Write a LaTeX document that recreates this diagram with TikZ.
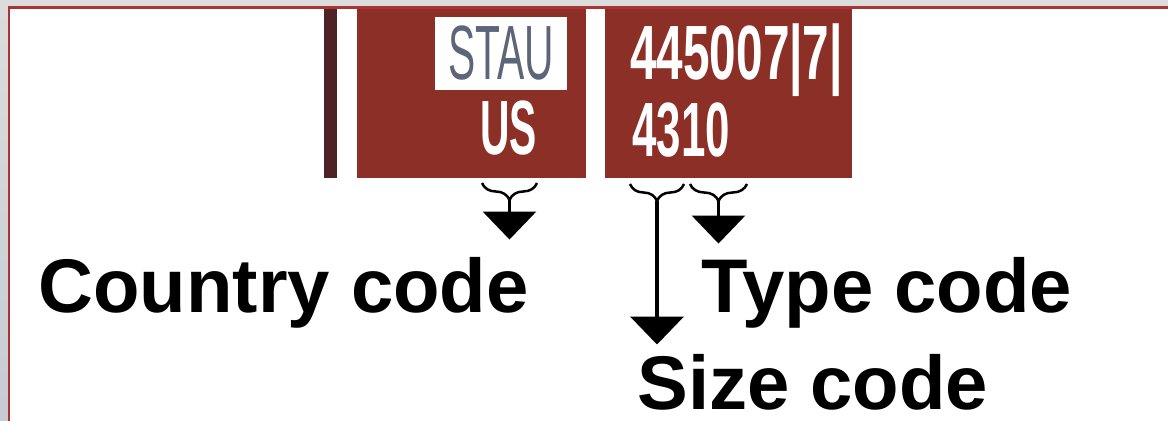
\documentclass[tikz,border=0pt]{standalone}
\usepackage{fontspec}
\setmainfont{Liberation Sans}
\usetikzlibrary{arrows.meta, decorations.pathreplacing}
\definecolor{platered}{HTML}{8C3027}
\definecolor{bardark}{HTML}{4E2226}
\definecolor{framered}{HTML}{A83434}
\definecolor{framegray}{HTML}{DCDCDC}
\definecolor{framebluegray}{HTML}{C6CBD4}
\definecolor{staugray}{HTML}{5C6579}
\tikzset{
	plate/.style={fill=platered, draw=none, inner sep=0pt}, % the red marking plates
	platetext/.style={text=white, inner sep=0pt, font=\fontsize{43.8}{44}\selectfont\bfseries},
	codelabel/.style={inner sep=0pt, anchor=base west, font=\fontsize{43.3}{45}\selectfont\bfseries},
	codebrace/.style={decorate, decoration={brace, mirror, amplitude=0.34cm}, line width=0.05cm},
	codearrow/.style={-{Triangle[width=1.06cm, length=0.56cm]}, line width=0.1cm},
}

\begin{document}
\begin{tikzpicture}[x=0.02cm, y=-0.02cm]
	\useasboundingbox (0,0) rectangle (1168,421);
	\fill[white] (0,0) rectangle (1168,421);

	% plates
	\node[plate, fill=bardark, minimum width=0.26cm, minimum height=3.42cm] (bar) at (330.5,92.5) {};
	\node[plate, minimum width=4.58cm, minimum height=3.42cm] (owner) at (471.5,92.5) {};
	\node[plate, minimum width=4.94cm, minimum height=3.42cm] (serial) at (728.5,92.5) {};

	\node[fill=white, inner sep=0pt, minimum width=2.64cm, minimum height=1.46cm,
		text=staugray, font=\fontsize{43.8}{44}\selectfont] (stau) at (501,53.5) {\scalebox{0.53}[1]{STAU}};
	\node[platetext] (us) at (508.5,128) {\scalebox{0.53}[1]{US}};
	\node[platetext, anchor=base west] (number) at (630,80) {\scalebox{0.62}[1]{445007\textbar7\textbar}};
	\node[platetext, anchor=base west] (sizetype) at (632,157) {\scalebox{0.57}[1]{4310}};

	% labels
	\node[codelabel] (country) at (38,313) {Country code};
	\node[codelabel] (type) at (701,313) {Type code};
	\node[codelabel] (size) at (637,410) {Size code};

	% braces under the codes
	\coordinate (cb1) at (482,183);
	\coordinate (cb2) at (537,183);
	\coordinate (sb1) at (630,184);
	\coordinate (sb2) at (684,184);
	\coordinate (tb1) at (690,184);
	\coordinate (tb2) at (747,184);
	\draw[codebrace] (cb1) -- (cb2);
	\draw[codebrace] (sb1) -- (sb2);
	\draw[codebrace] (tb1) -- (tb2);
	\coordinate (ctip) at (509.5,200);
	\coordinate (stip) at (657,201);
	\coordinate (ttip) at (718.5,201);

	% arrows
	\draw[codearrow, line width=0.07cm, shorten >=0.36cm] (ctip) -- (ctip |- country.north);
	\draw[codearrow, line width=0.09cm, shorten >=0.2cm] (stip) -- (stip |- size.north);
	\draw[codearrow, line width=0.07cm, shorten >=0.28cm] (ttip) -- (ttip |- type.north);

	% frame
	\fill[framegray] (0,0) rectangle (1168,7);
	\shade[top color=framegray, bottom color=framebluegray] (0,7) rectangle (8,421);
	\draw[framered, line width=0.06cm] (9,421) -- (9,7.5) -- (1168,7.5);
\end{tikzpicture}
\end{document}
